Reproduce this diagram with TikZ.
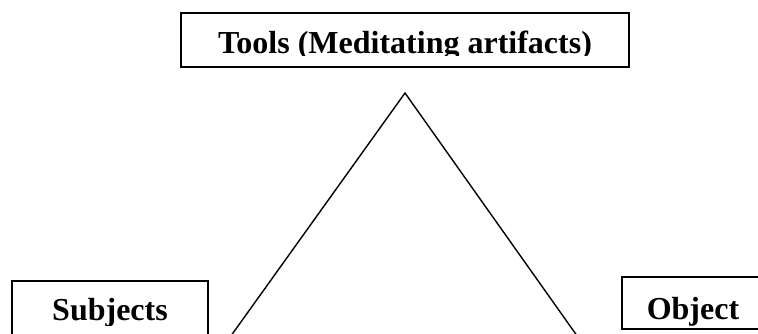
\documentclass[tikz,border=0pt]{standalone}
\usepackage{fontspec}
\setmainfont{Liberation Serif}
\usetikzlibrary{positioning}
\begin{document}
\begin{tikzpicture}[x=1pt, y=-1pt,
    frame/.style={draw, line width=1.5pt, rectangle, inner sep=0pt},
    boxtext/.style={font=\fontsize{32}{38}\selectfont\bfseries, anchor=base, inner sep=0pt},
    side/.style={line width=1.4pt}
]
\useasboundingbox (0,0) rectangle (758,333);
\clip (0,0) rectangle (758,333);
% Frames
\node[frame, minimum width=448pt, minimum height=54pt] (toolsbox) at (405,40) {};
\node[frame, minimum width=196pt, minimum height=64pt] (subjbox) at (110,313) {};
\node[frame, minimum width=142pt, minimum height=52pt] (objbox) at (693,303) {};

% Texts (cut at the bottom as in the reference)
\begin{scope}
\clip (181,13) rectangle (629,55);
\node[boxtext] (tools) at (405,53) {Tools (Meditating artifacts)};
\end{scope}
\begin{scope}
\clip (12,281) rectangle (208,325);
\node[boxtext] (subjects) at (110,320) {Subjects};
\end{scope}
\begin{scope}
\clip (622,277) rectangle (758,326);
\node[boxtext] (object) at (693,319) {Object};
\end{scope}

% Triangle sides
\coordinate (apex) at (405,93);
\coordinate (leftfoot) at (228,340);
\coordinate (rightfoot) at (580,340);
\draw[side] (leftfoot) -- (apex) -- (rightfoot);
\end{tikzpicture}
\end{document}
